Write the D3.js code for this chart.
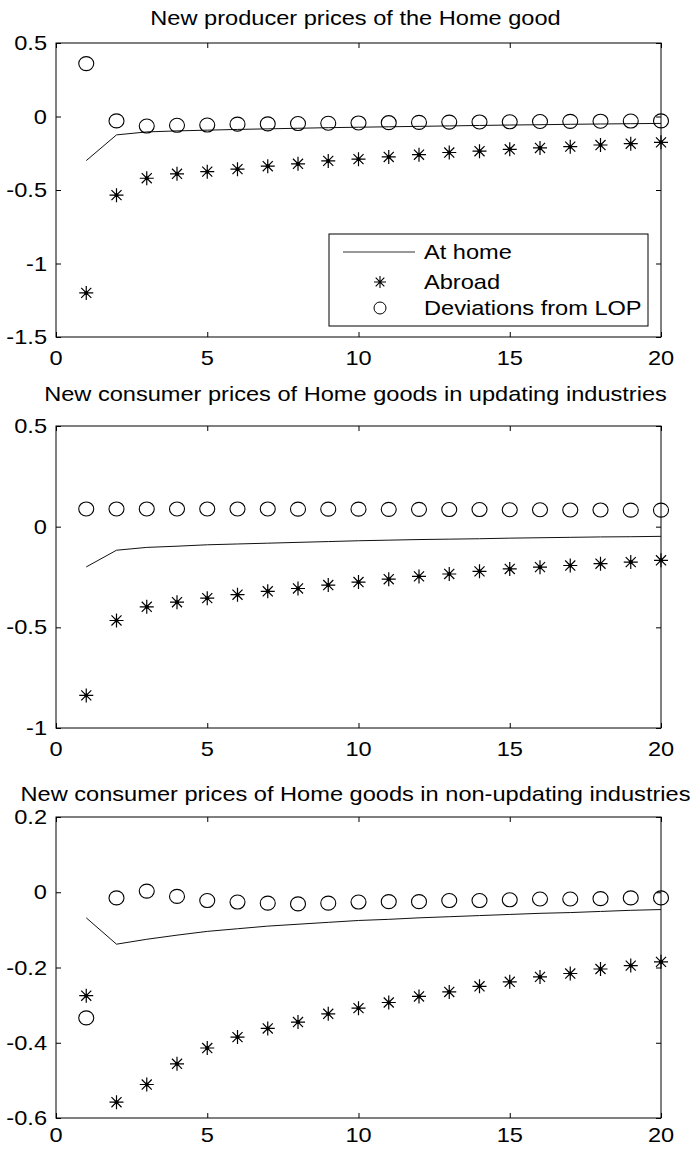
<!DOCTYPE html>
<html>
<head>
<meta charset="utf-8">
<script src="https://cdn.jsdelivr.net/npm/d3@7"></script>
<style>
  html, body { margin: 0; padding: 0; background: #fff; }
  svg { display: block; }
  text { font-family: "Liberation Sans", Arial, sans-serif; fill: #000; }
</style>
</head>
<body>
<svg id="chart" width="699" height="1149"></svg>
<script>
// ---------- data ----------
const periods = [1,2,3,4,5,6,7,8,9,10,11,12,13,14,15,16,17,18,19,20];
const xTicks = [0, 5, 10, 15, 20];

const titles = [
  "New producer prices of the Home good",
  "New consumer prices of Home goods in updating industries",
  "New consumer prices of Home goods in non-updating industries"
];
const seriesNames = ["At home", "Abroad", "Deviations from LOP"];

const p1YTicks = [0.5, 0, -0.5, -1, -1.5];
const p2YTicks = [0.5, 0, -0.5, -1];
const p3YTicks = [0.2, 0, -0.2, -0.4, -0.6];

const p1Home   = [-0.30,-0.125,-0.105,-0.098,-0.093,-0.088,-0.084,-0.080,-0.076,-0.073,-0.070,-0.067,-0.064,-0.061,-0.058,-0.056,-0.053,-0.051,-0.049,-0.047];
const p1Abroad = [-1.20,-0.535,-0.420,-0.390,-0.375,-0.358,-0.338,-0.322,-0.302,-0.290,-0.275,-0.260,-0.245,-0.236,-0.223,-0.214,-0.205,-0.194,-0.185,-0.176];
const p1LOP    = [0.36,-0.030,-0.065,-0.060,-0.058,-0.052,-0.050,-0.048,-0.046,-0.044,-0.042,-0.040,-0.038,-0.037,-0.036,-0.034,-0.033,-0.032,-0.031,-0.030];

const p2Home   = [-0.20,-0.117,-0.103,-0.097,-0.090,-0.086,-0.082,-0.078,-0.074,-0.070,-0.067,-0.064,-0.062,-0.060,-0.057,-0.055,-0.053,-0.051,-0.050,-0.048];
const p2Abroad = [-0.838,-0.466,-0.398,-0.375,-0.355,-0.338,-0.321,-0.307,-0.290,-0.275,-0.261,-0.247,-0.235,-0.222,-0.210,-0.201,-0.193,-0.184,-0.176,-0.167];
const p2LOP    = [0.088,0.088,0.088,0.088,0.088,0.088,0.088,0.087,0.087,0.087,0.086,0.086,0.085,0.085,0.084,0.084,0.083,0.083,0.082,0.082];

const p3Home   = [-0.068,-0.138,-0.125,-0.114,-0.104,-0.097,-0.090,-0.085,-0.080,-0.075,-0.072,-0.068,-0.065,-0.062,-0.059,-0.056,-0.054,-0.051,-0.048,-0.046];
const p3Abroad = [-0.275,-0.558,-0.511,-0.456,-0.414,-0.385,-0.362,-0.345,-0.323,-0.308,-0.293,-0.277,-0.265,-0.250,-0.238,-0.225,-0.216,-0.204,-0.195,-0.185];
const p3LOP    = [-0.334,-0.015,0.003,-0.011,-0.022,-0.026,-0.029,-0.031,-0.029,-0.026,-0.025,-0.025,-0.022,-0.022,-0.020,-0.018,-0.018,-0.017,-0.015,-0.015];

// ---------- layout ----------
const FS = 20;          // font size
const SX = 1.18;        // horizontal stretch of the scanned glyphs
const left = 56, right = 661;
const panels = [
  { title: titles[0], top: 43,  bottom: 337,  titleY: 25,  xLabDy: 28, yTicks: p1YTicks, home: p1Home, abroad: p1Abroad, lop: p1LOP, legend: true },
  { title: titles[1], top: 426, bottom: 728,  titleY: 401, xLabDy: 28, yTicks: p2YTicks, home: p2Home, abroad: p2Abroad, lop: p2LOP, legend: false },
  { title: titles[2], top: 817, bottom: 1118, titleY: 801, xLabDy: 24, yTicks: p3YTicks, home: p3Home, abroad: p3Abroad, lop: p3LOP, legend: false }
];

const svg = d3.select("#chart");

function label(g, x, y, txt, anchor) {
  return g.append("text")
    .attr("transform", `translate(${x},${y}) scale(${SX},1)`)
    .attr("text-anchor", anchor)
    .style("font-size", FS + "px")
    .text(txt);
}

// MATLAB-like '*' marker: plus + cross
const starSymbol = {
  draw(context, size) {
    const r = Math.sqrt(size) / 2;
    const d = r * 0.72;
    context.moveTo(-r, 0); context.lineTo(r, 0);
    context.moveTo(0, -r); context.lineTo(0, r);
    context.moveTo(-d, -d); context.lineTo(d, d);
    context.moveTo(-d, d); context.lineTo(d, -d);
  }
};
const starPath = d3.symbol().type(starSymbol).size(196)();

panels.forEach(p => {
  const g = svg.append("g");
  const x = d3.scaleLinear().domain([0, 20]).range([left, right]);
  const y = d3.scaleLinear()
    .domain([d3.min(p.yTicks), d3.max(p.yTicks)])
    .range([p.bottom, p.top]);

  // frame
  g.append("rect")
    .attr("x", left).attr("y", p.top)
    .attr("width", right - left).attr("height", p.bottom - p.top)
    .attr("fill", "none").attr("stroke", "#000").attr("stroke-width", 1);

  // inward ticks on all four sides
  const tk = 5;
  const axB = g.append("g").attr("transform", `translate(0,${p.bottom})`)
    .call(d3.axisBottom(x).tickValues(xTicks).tickSizeInner(-tk).tickSizeOuter(0).tickFormat(""));
  const axT = g.append("g").attr("transform", `translate(0,${p.top})`)
    .call(d3.axisTop(x).tickValues(xTicks).tickSizeInner(-tk).tickSizeOuter(0).tickFormat(""));
  const axL = g.append("g").attr("transform", `translate(${left},0)`)
    .call(d3.axisLeft(y).tickValues(p.yTicks).tickSizeInner(-tk).tickSizeOuter(0).tickFormat(""));
  const axR = g.append("g").attr("transform", `translate(${right},0)`)
    .call(d3.axisRight(y).tickValues(p.yTicks).tickSizeInner(-tk).tickSizeOuter(0).tickFormat(""));
  [axB, axT, axL, axR].forEach(a => {
    a.select(".domain").remove();
    a.selectAll("line").attr("stroke", "#000");
  });

  // tick labels
  xTicks.forEach(v => label(g, x(v), p.bottom + p.xLabDy, String(v), "middle"));
  p.yTicks.forEach(v => label(g, left - 9, y(v) + 7, String(v), "end"));

  // title
  label(g, (left + right) / 2 - 3, p.titleY, p.title, "middle");

  // line: At home
  const line = d3.line().x((d, i) => x(periods[i])).y(d => y(d));
  g.append("path").datum(p.home)
    .attr("d", line)
    .attr("fill", "none").attr("stroke", "#111").attr("stroke-width", 1);

  // stars: Abroad
  g.selectAll(".star").data(p.abroad).enter().append("path")
    .attr("class", "star")
    .attr("transform", (d, i) => `translate(${x(periods[i])},${y(d)})`)
    .attr("d", starPath)
    .attr("fill", "none").attr("stroke", "#000").attr("stroke-width", 1.2);
  g.selectAll(".stardot").data(p.abroad).enter().append("circle")
    .attr("class", "stardot")
    .attr("cx", (d, i) => x(periods[i])).attr("cy", d => y(d))
    .attr("r", 2).attr("fill", "#000");

  // circles: Deviations from LOP
  g.selectAll(".lop").data(p.lop).enter().append("ellipse")
    .attr("class", "lop")
    .attr("cx", (d, i) => x(periods[i])).attr("cy", d => y(d))
    .attr("rx", 7.5).attr("ry", 7)
    .attr("fill", "none").attr("stroke", "#000").attr("stroke-width", 1.1);

  // legend
  if (p.legend) {
    const lx = 329, ly = 234, lw = 319, lh = 92;
    const lg = g.append("g");
    lg.append("rect").attr("x", lx).attr("y", ly).attr("width", lw).attr("height", lh)
      .attr("fill", "#fff").attr("stroke", "#000").attr("stroke-width", 1);
    const rows = [ly + 18, ly + 48, ly + 74];
    lg.append("line").attr("x1", lx + 14).attr("x2", lx + 86)
      .attr("y1", rows[0]).attr("y2", rows[0])
      .attr("stroke", "#333").attr("stroke-width", 1);
    lg.append("path").attr("transform", `translate(${lx + 51},${rows[1]})`)
      .attr("d", d3.symbol().type(starSymbol).size(144)())
      .attr("fill", "none").attr("stroke", "#000").attr("stroke-width", 1.1);
    lg.append("circle").attr("cx", lx + 51).attr("cy", rows[2]).attr("r", 6)
      .attr("fill", "none").attr("stroke", "#000").attr("stroke-width", 1);
    seriesNames.forEach((s, i) => label(lg, lx + 95, rows[i] + 7, s, "start"));
  }
});
</script>
</body>
</html>
